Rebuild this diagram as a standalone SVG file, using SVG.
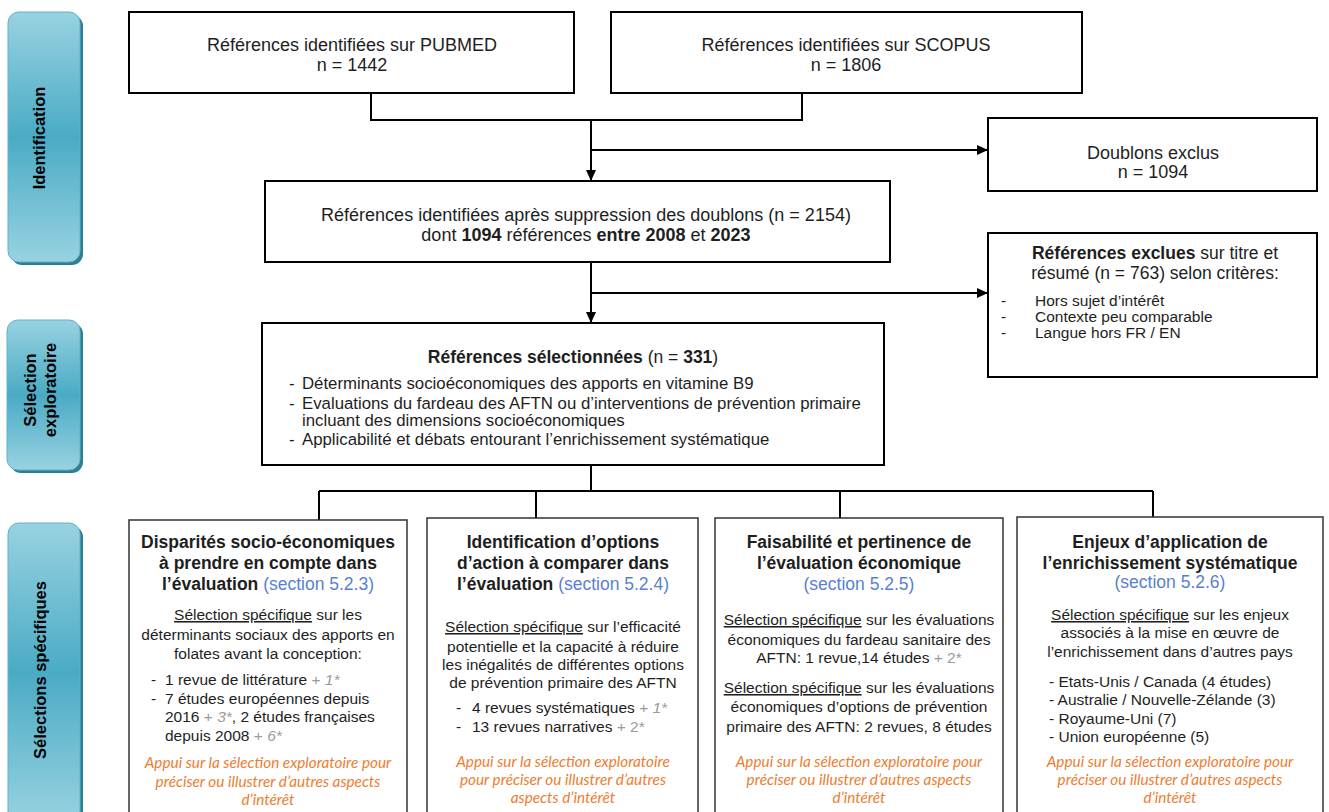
<svg xmlns="http://www.w3.org/2000/svg" width="1329" height="812" viewBox="0 0 1329 812">
<defs>
<style>
.box{fill:#fff;stroke:#000;stroke-width:2}
.bbox{fill:#fff;stroke:#333;stroke-width:1.5}
.t{font-family:"Liberation Sans",Arial,sans-serif;fill:#1e1e1e}
.f18{font-size:18px}
.f17{font-size:17.5px}
.f16{font-size:16.8px}
.f15{font-size:15.5px}
.c{text-anchor:middle}
.b{font-weight:bold}
.sec{fill:#5a7fd0;font-weight:normal}
.g{fill:#9a9a9a}
.i{font-style:italic}
.u{text-decoration:underline}
.or{font-family:Lato,"Open Sans",sans-serif;font-style:italic;fill:#ED7D31;font-size:15.3px;text-anchor:middle}
.conn{fill:none;stroke:#000;stroke-width:2}
.lab{font-family:"Liberation Sans",Arial,sans-serif;font-weight:bold;font-size:16.5px;text-anchor:middle;fill:#000}
.lbox{fill:url(#lg);stroke:#5fb3c9;stroke-width:1}
.lsh{fill:#2f7f92}
</style>
<linearGradient id="lg" x1="0" y1="0" x2="0" y2="1">
<stop offset="0" stop-color="#98d2e1"/>
<stop offset="0.5" stop-color="#4aabc5"/>
<stop offset="1" stop-color="#98d2e1"/>
</linearGradient>
<marker id="ah" markerWidth="11" markerHeight="10" refX="11" refY="5" orient="auto" markerUnits="userSpaceOnUse">
<path d="M0,0 L11,5 L0,10 z" fill="#000"/>
</marker>
</defs>
<rect width="1329" height="812" fill="#fff"/>

<g id="label-identification">
<rect class="lsh" x="11" y="15" width="72" height="250" rx="11"/>
<rect class="lbox" x="8" y="12" width="72" height="250" rx="11"/>
<text class="lab" transform="translate(45,138) rotate(-90)">Identification</text>
</g>
<g id="label-exploratoire">
<rect class="lsh" x="10" y="323" width="73" height="150" rx="11"/>
<rect class="lbox" x="7" y="320" width="73" height="150" rx="11"/>
<text class="lab" transform="translate(36,390) rotate(-90)">Sélection</text>
<text class="lab" transform="translate(56,390) rotate(-90)">exploratoire</text>
</g>
<g id="label-specifiques">
<rect class="lsh" x="11" y="526" width="72" height="300" rx="11"/>
<rect class="lbox" x="8" y="523" width="72" height="300" rx="11"/>
<text class="lab" transform="translate(46,670) rotate(-90)">Sélections spécifiques</text>
</g>

<g id="connectors">
<path class="conn" d="M371,93 V120 H802 V93"/>
<path class="conn" d="M591,120 V181" marker-end="url(#ah)"/>
<path class="conn" d="M591,150 H988" marker-end="url(#ah)"/>
<path class="conn" d="M591,262 V323" marker-end="url(#ah)"/>
<path class="conn" d="M591,293 H988" marker-end="url(#ah)"/>
<path class="conn" d="M591,465 V491 M319,491 H1153 M319,491 V520 M536,491 V518 M840,491 V518 M1153,491 V517"/>
</g>

<g id="pubmed">
<rect class="box" x="129" y="12" width="445" height="81"/>
<text class="t f18 c" x="352" y="51">Références identifiées sur PUBMED</text>
<text class="t f18 c" x="352" y="71">n = 1442</text>
</g>
<g id="scopus">
<rect class="box" x="611" y="12" width="471" height="81"/>
<text class="t f18 c" x="846" y="51">Références identifiées sur SCOPUS</text>
<text class="t f18 c" x="846" y="71">n = 1806</text>
</g>
<g id="doublons">
<rect class="box" x="988" y="118" width="329" height="73"/>
<text class="t f18 c" x="1153" y="159">Doublons exclus</text>
<text class="t f18 c" x="1153" y="178">n = 1094</text>
</g>
<g id="apres-suppression">
<rect class="box" x="265" y="181" width="625" height="81"/>
<text class="t f18 c" x="586" y="221">Références identifiées après suppression des doublons (n = 2154)</text>
<text class="t f18 c" x="586" y="241">dont <tspan class="b">1094</tspan> références <tspan class="b">entre 2008</tspan> et <tspan class="b">2023</tspan></text>
</g>
<g id="exclues">
<rect class="box" x="988" y="233" width="329" height="144"/>
<text class="t f17 c" x="1155" y="259"><tspan class="b">Références exclues</tspan> sur titre et</text>
<text class="t f17 c" x="1155" y="279">résumé (n = 763) selon critères:</text>
<text class="t f15" x="1001" y="306">-</text>
<text class="t f15" x="1035" y="306">Hors sujet d’intérêt</text>
<text class="t f15" x="1001" y="322">-</text>
<text class="t f15" x="1035" y="322">Contexte peu comparable</text>
<text class="t f15" x="1001" y="338">-</text>
<text class="t f15" x="1035" y="338">Langue hors FR / EN</text>
</g>
<g id="selectionnees">
<rect class="box" x="262" y="323" width="622" height="142"/>
<text class="t f17 c" x="573" y="363"><tspan class="b">Références sélectionnées</tspan> (n = <tspan class="b">331</tspan>)</text>
<text class="t f16" x="289" y="389">-</text>
<text class="t f16" x="302" y="389">Déterminants socioéconomiques des apports en vitamine B9</text>
<text class="t f16" x="289" y="409">-</text>
<text class="t f16" x="302" y="409">Evaluations du fardeau des AFTN ou d’interventions de prévention primaire</text>
<text class="t f16" x="302" y="426">incluant des dimensions socioéconomiques</text>
<text class="t f16" x="289" y="445">-</text>
<text class="t f16" x="302" y="445">Applicabilité et débats entourant l’enrichissement systématique</text>
</g>

<g id="disparites">
<rect class="bbox" x="129" y="520" width="278" height="310"/>
<text class="t f17 c b" x="268" y="548">Disparités socio-économiques</text>
<text class="t f17 c b" x="268" y="569">à prendre en compte dans</text>
<text class="t f17 c b" x="268" y="590">l’évaluation <tspan class="sec">(section 5.2.3)</tspan></text>
<text class="t f15 c" x="268" y="620"><tspan class="u">Sélection spécifique</tspan> sur les</text>
<text class="t f15 c" x="268" y="640">déterminants sociaux des apports en</text>
<text class="t f15 c" x="268" y="659">folates avant la conception:</text>
<text class="t f15" x="151" y="685">-</text>
<text class="t f15" x="165" y="685">1 revue de littérature <tspan class="g">+ <tspan class="i">1*</tspan></tspan></text>
<text class="t f15" x="151" y="704">-</text>
<text class="t f15" x="165" y="704">7 études européennes depuis</text>
<text class="t f15" x="165" y="722">2016 <tspan class="g">+ <tspan class="i">3*</tspan></tspan>, 2 études françaises</text>
<text class="t f15" x="165" y="741">depuis 2008 <tspan class="g">+ <tspan class="i">6*</tspan></tspan></text>
<text class="or" x="268" y="768">Appui sur la sélection exploratoire pour</text>
<text class="or" x="268" y="787">préciser ou illustrer d’autres aspects</text>
<text class="or" x="268" y="805">d’intérêt</text>
</g>
<g id="options">
<rect class="bbox" x="427" y="518" width="271" height="310"/>
<text class="t f17 c b" x="563" y="548">Identification d’options</text>
<text class="t f17 c b" x="563" y="569">d’action à comparer dans</text>
<text class="t f17 c b" x="563" y="590">l’évaluation <tspan class="sec">(section 5.2.4)</tspan></text>
<text class="t f15 c" x="563" y="632"><tspan class="u">Sélection spécifique</tspan> sur l’efficacité</text>
<text class="t f15 c" x="563" y="652">potentielle et la capacité à réduire</text>
<text class="t f15 c" x="563" y="670">les inégalités de différentes options</text>
<text class="t f15 c" x="563" y="688">de prévention primaire des AFTN</text>
<text class="t f15" x="456" y="713">-</text>
<text class="t f15" x="472" y="713">4 revues systématiques <tspan class="g">+ <tspan class="i">1*</tspan></tspan></text>
<text class="t f15" x="456" y="732">-</text>
<text class="t f15" x="472" y="732">13 revues narratives <tspan class="g">+ 2*</tspan></text>
<text class="or" x="563" y="767">Appui sur la sélection exploratoire</text>
<text class="or" x="563" y="785">pour préciser ou illustrer d’autres</text>
<text class="or" x="563" y="803">aspects d’intérêt</text>
</g>
<g id="faisabilite">
<rect class="bbox" x="715" y="518" width="288" height="310"/>
<text class="t f17 c b" x="859" y="548">Faisabilité et pertinence de</text>
<text class="t f17 c b" x="859" y="569">l’évaluation économique</text>
<text class="t f17 c sec" x="859" y="590">(section 5.2.5)</text>
<text class="t f15 c" x="859" y="625"><tspan class="u">Sélection spécifique</tspan> sur les évaluations</text>
<text class="t f15 c" x="859" y="645">économiques du fardeau sanitaire des</text>
<text class="t f15 c" x="859" y="663">AFTN: 1 revue,14 études <tspan class="g">+ 2*</tspan></text>
<text class="t f15 c" x="859" y="693"><tspan class="u">Sélection spécifique</tspan> sur les évaluations</text>
<text class="t f15 c" x="859" y="712">économiques d’options de prévention</text>
<text class="t f15 c" x="859" y="732">primaire des AFTN: 2 revues, 8 études</text>
<text class="or" x="859" y="767">Appui sur la sélection exploratoire pour</text>
<text class="or" x="859" y="785">préciser ou illustrer d’autres aspects</text>
<text class="or" x="859" y="803">d’intérêt</text>
</g>
<g id="enjeux">
<rect class="bbox" x="1017" y="517" width="306" height="310"/>
<text class="t f17 c b" x="1170" y="548">Enjeux d’application de</text>
<text class="t f17 c b" x="1170" y="569">l’enrichissement systématique</text>
<text class="t f17 c sec" x="1170" y="588">(section 5.2.6)</text>
<text class="t f15 c" x="1170" y="620"><tspan class="u">Sélection spécifique</tspan> sur les enjeux</text>
<text class="t f15 c" x="1170" y="638">associés à la mise en œuvre de</text>
<text class="t f15 c" x="1170" y="657">l’enrichissement dans d’autres pays</text>
<text class="t f15" x="1049" y="687">- Etats-Unis / Canada (4 études)</text>
<text class="t f15" x="1049" y="705">- Australie / Nouvelle-Zélande (3)</text>
<text class="t f15" x="1049" y="724">- Royaume-Uni (7)</text>
<text class="t f15" x="1049" y="742">- Union européenne (5)</text>
<text class="or" x="1170" y="767">Appui sur la sélection exploratoire pour</text>
<text class="or" x="1170" y="785">préciser ou illustrer d’autres aspects</text>
<text class="or" x="1170" y="803">d’intérêt</text>
</g>
</svg>
